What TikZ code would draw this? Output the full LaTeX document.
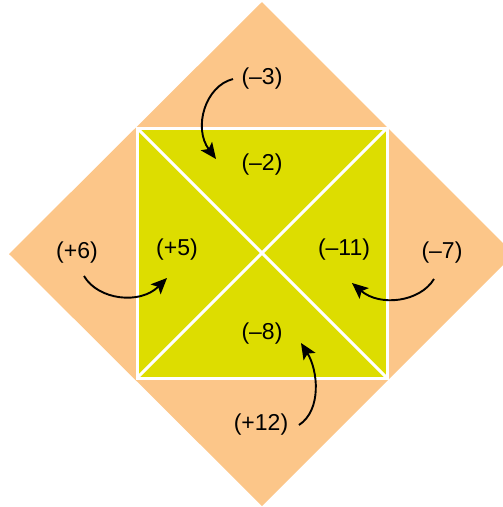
\documentclass[tikz,border=0pt]{standalone}
\usepackage{fontspec}
\setmainfont{Liberation Sans}
\usetikzlibrary{arrows.meta}
\definecolor{peach}{RGB}{252,198,137}
\definecolor{lime}{RGB}{221,221,0}
\tikzset{
  lbl/.style={font=\fontsize{23}{27}\selectfont, inner sep=0pt},
  arr/.style={line width=1.9pt, -{Stealth[length=16pt,width=14pt,inset=3.5pt]}},
}
\begin{document}
\begin{tikzpicture}[x=1pt,y=-1pt]
\useasboundingbox (0,0) rectangle (503,507);
% diamond
\fill[peach] (262,2) -- (514,254) -- (262,506) -- (9,254) -- cycle;
% square
\fill[lime] (137,128) rectangle (387,378);
\draw[white, line width=3pt] (137,128) rectangle (387,378);
\draw[white, line width=3pt] (137,128) -- (387,378);
\draw[white, line width=3pt] (387,128) -- (137,378);
% labels
\node[lbl] (m3) at (262,79) {(–3)};
\node[lbl] (m2) at (262,165) {(–2)};
\node[lbl] (p6) at (77,253) {(+6)};
\node[lbl] (p5) at (177,250) {(+5)};
\node[lbl] (m11) at (344,250) {(–11)};
\node[lbl] (m7) at (442,253) {(–7)};
\node[lbl] (m8) at (262,334) {(–8)};
\node[lbl] (p12) at (261,425) {(+12)};
% arrow ends
\coordinate (a1s) at (233,79);  \coordinate (a1e) at (216,159);
\coordinate (a2s) at (84,276);  \coordinate (a2e) at (167,278);
\coordinate (a3s) at (434,279); \coordinate (a3e) at (352,283);
\coordinate (a4s) at (299,425); \coordinate (a4e) at (301,343);
\draw[arr] (a1s) .. controls (205,86) and (193,128) .. (a1e);
\draw[arr] (a2s) .. controls (98,300) and (140,305) .. (a2e);
\draw[arr] (a3s) .. controls (420,302) and (380,307) .. (a3e);
\draw[arr] (a4s) .. controls (322,410) and (318,370) .. (a4e);
\end{tikzpicture}
\end{document}
